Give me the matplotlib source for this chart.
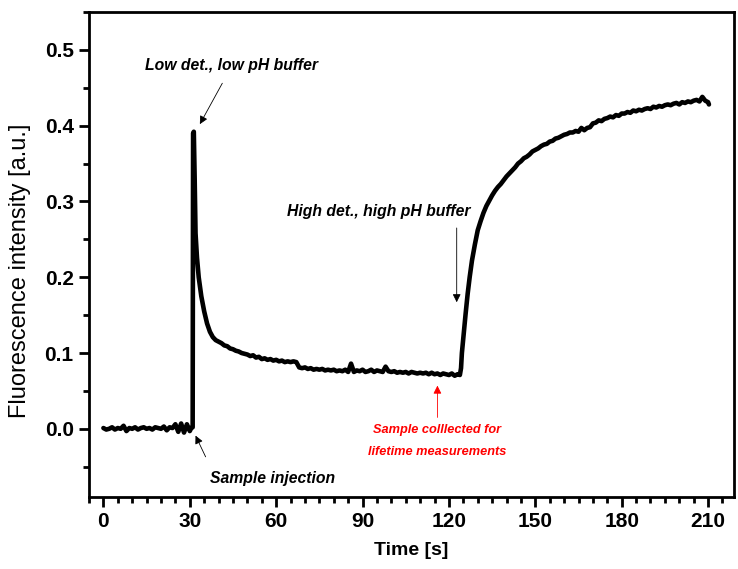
import numpy as np
import matplotlib
matplotlib.use("Agg")
import matplotlib.pyplot as plt
from matplotlib.ticker import MultipleLocator

plt.rcParams['font.family'] = ['Liberation Sans', 'DejaVu Sans']

# ---- data ----
t_base = list(range(0, 31))
y_base = [0.001, -0.001, 0.000, 0.002, -0.001, 0.001, 0.000, 0.004, -0.003, 0.001,
          0.000, 0.002, -0.001, 0.001, 0.002, 0.000, 0.001, -0.001, 0.002, 0.001,
          0.000, 0.003, -0.002, 0.002, 0.001, 0.006, -0.004, 0.007, -0.005, 0.006, -0.003]

t_peak = [30.5, 31.0, 31.15, 31.4, 31.7, 32.0, 32.5, 33.1, 34.0, 35.0, 36.0, 37.0]
y_peak = [0.001, 0.002, 0.390, 0.392, 0.330, 0.258, 0.226, 0.200, 0.175, 0.155, 0.139, 0.128]

t_plat = list(range(38, 124)) + [123.8]
y_plat = [0.121, 0.117, 0.115, 0.113, 0.110, 0.109, 0.106, 0.105, 0.103, 0.102,
          0.100, 0.099, 0.098, 0.096, 0.097, 0.094, 0.095, 0.092, 0.093, 0.091,
          0.092, 0.090, 0.091, 0.089, 0.090, 0.088, 0.089, 0.088, 0.089, 0.088,
          0.081, 0.080, 0.081, 0.079, 0.080, 0.078, 0.079, 0.078, 0.079, 0.077,
          0.078, 0.077, 0.078, 0.076, 0.077, 0.076, 0.078, 0.075, 0.086, 0.075,
          0.077, 0.076, 0.078, 0.075, 0.076, 0.078, 0.075, 0.077, 0.076, 0.075,
          0.082, 0.076, 0.075, 0.076, 0.074, 0.075, 0.074, 0.075, 0.073, 0.075,
          0.074, 0.073, 0.074, 0.073, 0.074, 0.072, 0.074, 0.072, 0.073, 0.071,
          0.073, 0.072, 0.071, 0.073, 0.070, 0.072, 0.071]

t_rise = [124.2, 124.5, 124.8, 125.3, 125.8, 126.5, 127.2, 128.0] + list(range(129, 211)) + [210.3]
y_rise = [0.080, 0.100, 0.112, 0.132, 0.152, 0.178, 0.200, 0.222,
          0.243, 0.262, 0.274, 0.285, 0.294, 0.301, 0.308, 0.314, 0.319, 0.323,
          0.328, 0.333, 0.337, 0.341, 0.345, 0.350, 0.353, 0.357, 0.359, 0.362,
          0.366, 0.368, 0.370, 0.373, 0.375, 0.376, 0.379, 0.380, 0.383, 0.384,
          0.386, 0.388, 0.389, 0.391, 0.391, 0.393, 0.392, 0.397, 0.394, 0.397,
          0.398, 0.403, 0.404, 0.407, 0.406, 0.409, 0.410, 0.412, 0.411, 0.414,
          0.413, 0.416, 0.416, 0.418, 0.417, 0.420, 0.419, 0.421, 0.420, 0.422,
          0.423, 0.422, 0.425, 0.424, 0.426, 0.425, 0.427, 0.428, 0.427, 0.429,
          0.430, 0.428, 0.431, 0.430, 0.432, 0.431, 0.433, 0.434, 0.432, 0.438,
          0.433, 0.431, 0.428]

time_s = t_base + t_peak + t_plat + t_rise
intensity = y_base + y_peak + y_plat + y_rise

x_ticks = [0, 30, 60, 90, 120, 150, 180, 210]
y_ticks = [0.0, 0.1, 0.2, 0.3, 0.4, 0.5]

# ---- figure ----
fig = plt.figure(figsize=(7.38, 5.69), dpi=100)
ax = fig.add_axes([89/738, 72/569, (734-89)/738, (497-12)/569])

ax.plot(time_s, intensity, color='black', lw=3.3, solid_joinstyle='round',
        solid_capstyle='round')

ax.set_xlim(-5, 219)
ax.set_ylim(-0.09, 0.55)
ax.set_xticks(x_ticks)
ax.set_yticks(y_ticks)
ax.set_yticklabels([f"{v:.1f}" for v in y_ticks])
ax.xaxis.set_minor_locator(MultipleLocator(5))
ax.yaxis.set_minor_locator(MultipleLocator(0.05))

for s in ax.spines.values():
    s.set_linewidth(2.0)
ax.tick_params(which='major', direction='out', length=7, width=2, labelsize=15, pad=4)
ax.tick_params(which='minor', direction='out', length=4, width=2)
ax.tick_params(top=False, right=False, which='both')
for lab in ax.get_xticklabels() + ax.get_yticklabels():
    lab.set_fontweight('bold')

ax.set_xlabel('Time [s]', fontsize=14, fontweight='bold', labelpad=8)
ax.set_ylabel('Fluorescence intensity [a.u.]', fontsize=17, fontweight='normal',
              va='center')
ax.yaxis.set_label_coords(-0.107, 0.466)

tk = dict(fontsize=11.3, fontweight='bold', fontstyle='italic', ha='center', va='center')
arw = dict(arrowstyle='-|>', color='black', lw=0.6, mutation_scale=12, shrinkA=0, shrinkB=0)

ax.annotate('', xy=(33.5, 0.402), xytext=(41.3, 0.456), arrowprops=arw)
ax.text(44.5, 0.479, 'Low det., low pH buffer', **tk)

ax.annotate('', xy=(122.7, 0.167), xytext=(122.7, 0.265), arrowprops=arw)
ax.text(95.5, 0.287, 'High det., high pH buffer', **tk)

ax.annotate('', xy=(32.0, -0.009), xytext=(35.5, -0.037), arrowprops=arw)
ax.text(58.7, -0.065, 'Sample injection', **tk)

arw_r = dict(arw, color='red')
ax.annotate('', xy=(116.0, 0.057), xytext=(116.0, 0.015), arrowprops=arw_r)
ax.text(115.8, -0.001, 'Sample colllected for', color='red', fontsize=9.2,
        fontweight='bold', fontstyle='italic', ha='center', va='center')
ax.text(115.8, -0.030, 'lifetime measurements', color='red', fontsize=9.2,
        fontweight='bold', fontstyle='italic', ha='center', va='center')

fig.savefig('out.png', dpi=100)
